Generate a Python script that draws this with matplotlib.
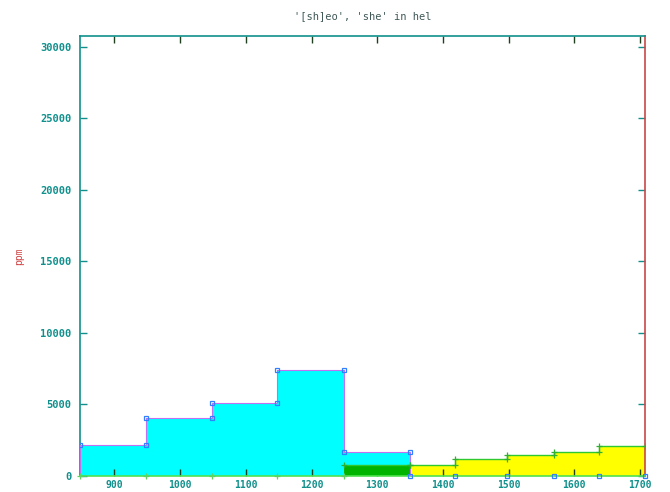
import matplotlib
matplotlib.use('Agg')
import matplotlib.pyplot as plt

# step edges and heights
cyan_edges = [847.5, 948, 1048, 1148, 1249, 1350]
cyan_vals = [2180, 4070, 5090, 7380, 1670]
cyan_zero_x = [1350, 1418, 1498, 1569, 1638, 1708]

green_edges = [1249, 1350]
green_vals = [780]

yellow_edges = [1350, 1418, 1498, 1569, 1638, 1708]
yellow_vals = [780, 1200, 1500, 1670, 2090]
yellow_zero_x = [847.5, 948, 1048, 1148, 1249]

x_ticks = [900, 1000, 1100, 1200, 1300, 1400, 1500, 1600, 1700]
y_ticks = [0, 5000, 10000, 15000, 20000, 25000, 30000]

TEAL = '#10908c'
MONO = 'DejaVu Sans Mono'


def step_points(edges, vals):
    xs, ys = [], []
    for i, v in enumerate(vals):
        xs += [edges[i], edges[i + 1]]
        ys += [v, v]
    return xs, ys


fig = plt.figure(figsize=(6.7, 4.92), dpi=100)
ax = fig.add_axes([80 / 670, 1 - 476 / 492, 565 / 670, 440 / 492])

# cyan blocks
cx, cy = step_points(cyan_edges, cyan_vals)
ax.fill_between(cx, cy, 0, color='#00ffff', lw=0, zorder=1)
ax.plot([cx[0]] + cx + [cx[-1]], [0] + cy + [0], color='#c070f0', lw=0.8, zorder=3)
ax.plot(cx, cy, 's', ms=3, mfc='none', mec='#3080ff', mew=0.9, zorder=4)
ax.plot(cyan_zero_x, [0] * len(cyan_zero_x), 's', ms=3, mfc='none',
        mec='#3080ff', mew=0.9, zorder=4, clip_on=False)

# dark green block
gx, gy = step_points(green_edges, green_vals)
ax.fill_between(gx, gy, 0, color='#00b400', lw=0, zorder=2)

# yellow steps
yx, yy = step_points(yellow_edges, yellow_vals)
ax.fill_between(yx, yy, 0, color='#ffff00', lw=0, zorder=1)
ax.plot([gx[0]] + gx + yx, [gy[0]] + gy + yy, color='#30c830', lw=1.0, zorder=3)
ax.plot(gx + yx, gy + yy, '+', ms=4.5, color='#30b030', mew=0.9, zorder=4)
ax.plot(yellow_zero_x, [0] * len(yellow_zero_x), '+', ms=4.5, color='#60d060',
        mew=0.9, zorder=4, clip_on=False)

ax.set_xlim(847.5, 1707.6)
ax.set_ylim(0, 30750)
ax.set_xticks(x_ticks)
ax.set_yticks(y_ticks)
ax.tick_params(direction='in', length=5, width=1, colors=TEAL,
               top=True, right=True, labelsize=7.5, pad=6)
ax.tick_params(axis='x', color='#204020', pad=3, labelsize=7)
for lab in ax.get_xticklabels() + ax.get_yticklabels():
    lab.set_family(MONO)
    lab.set_fontweight('bold')

for side in ['left', 'top', 'right']:
    ax.spines[side].set_color(TEAL)
    ax.spines[side].set_linewidth(1.2)
ax.spines['right'].set_color('#c84848')
ax.spines['bottom'].set_color('#50e050')
ax.spines['bottom'].set_linewidth(1.2)

ax.set_ylabel('ppm', family=MONO, fontsize=7, color='#d04040', labelpad=12)
ax.set_title("'[sh]eo', 'she' in hel", family=MONO, fontsize=7.5,
             color='#405858', pad=12)

fig.savefig('out.png', dpi=100)
